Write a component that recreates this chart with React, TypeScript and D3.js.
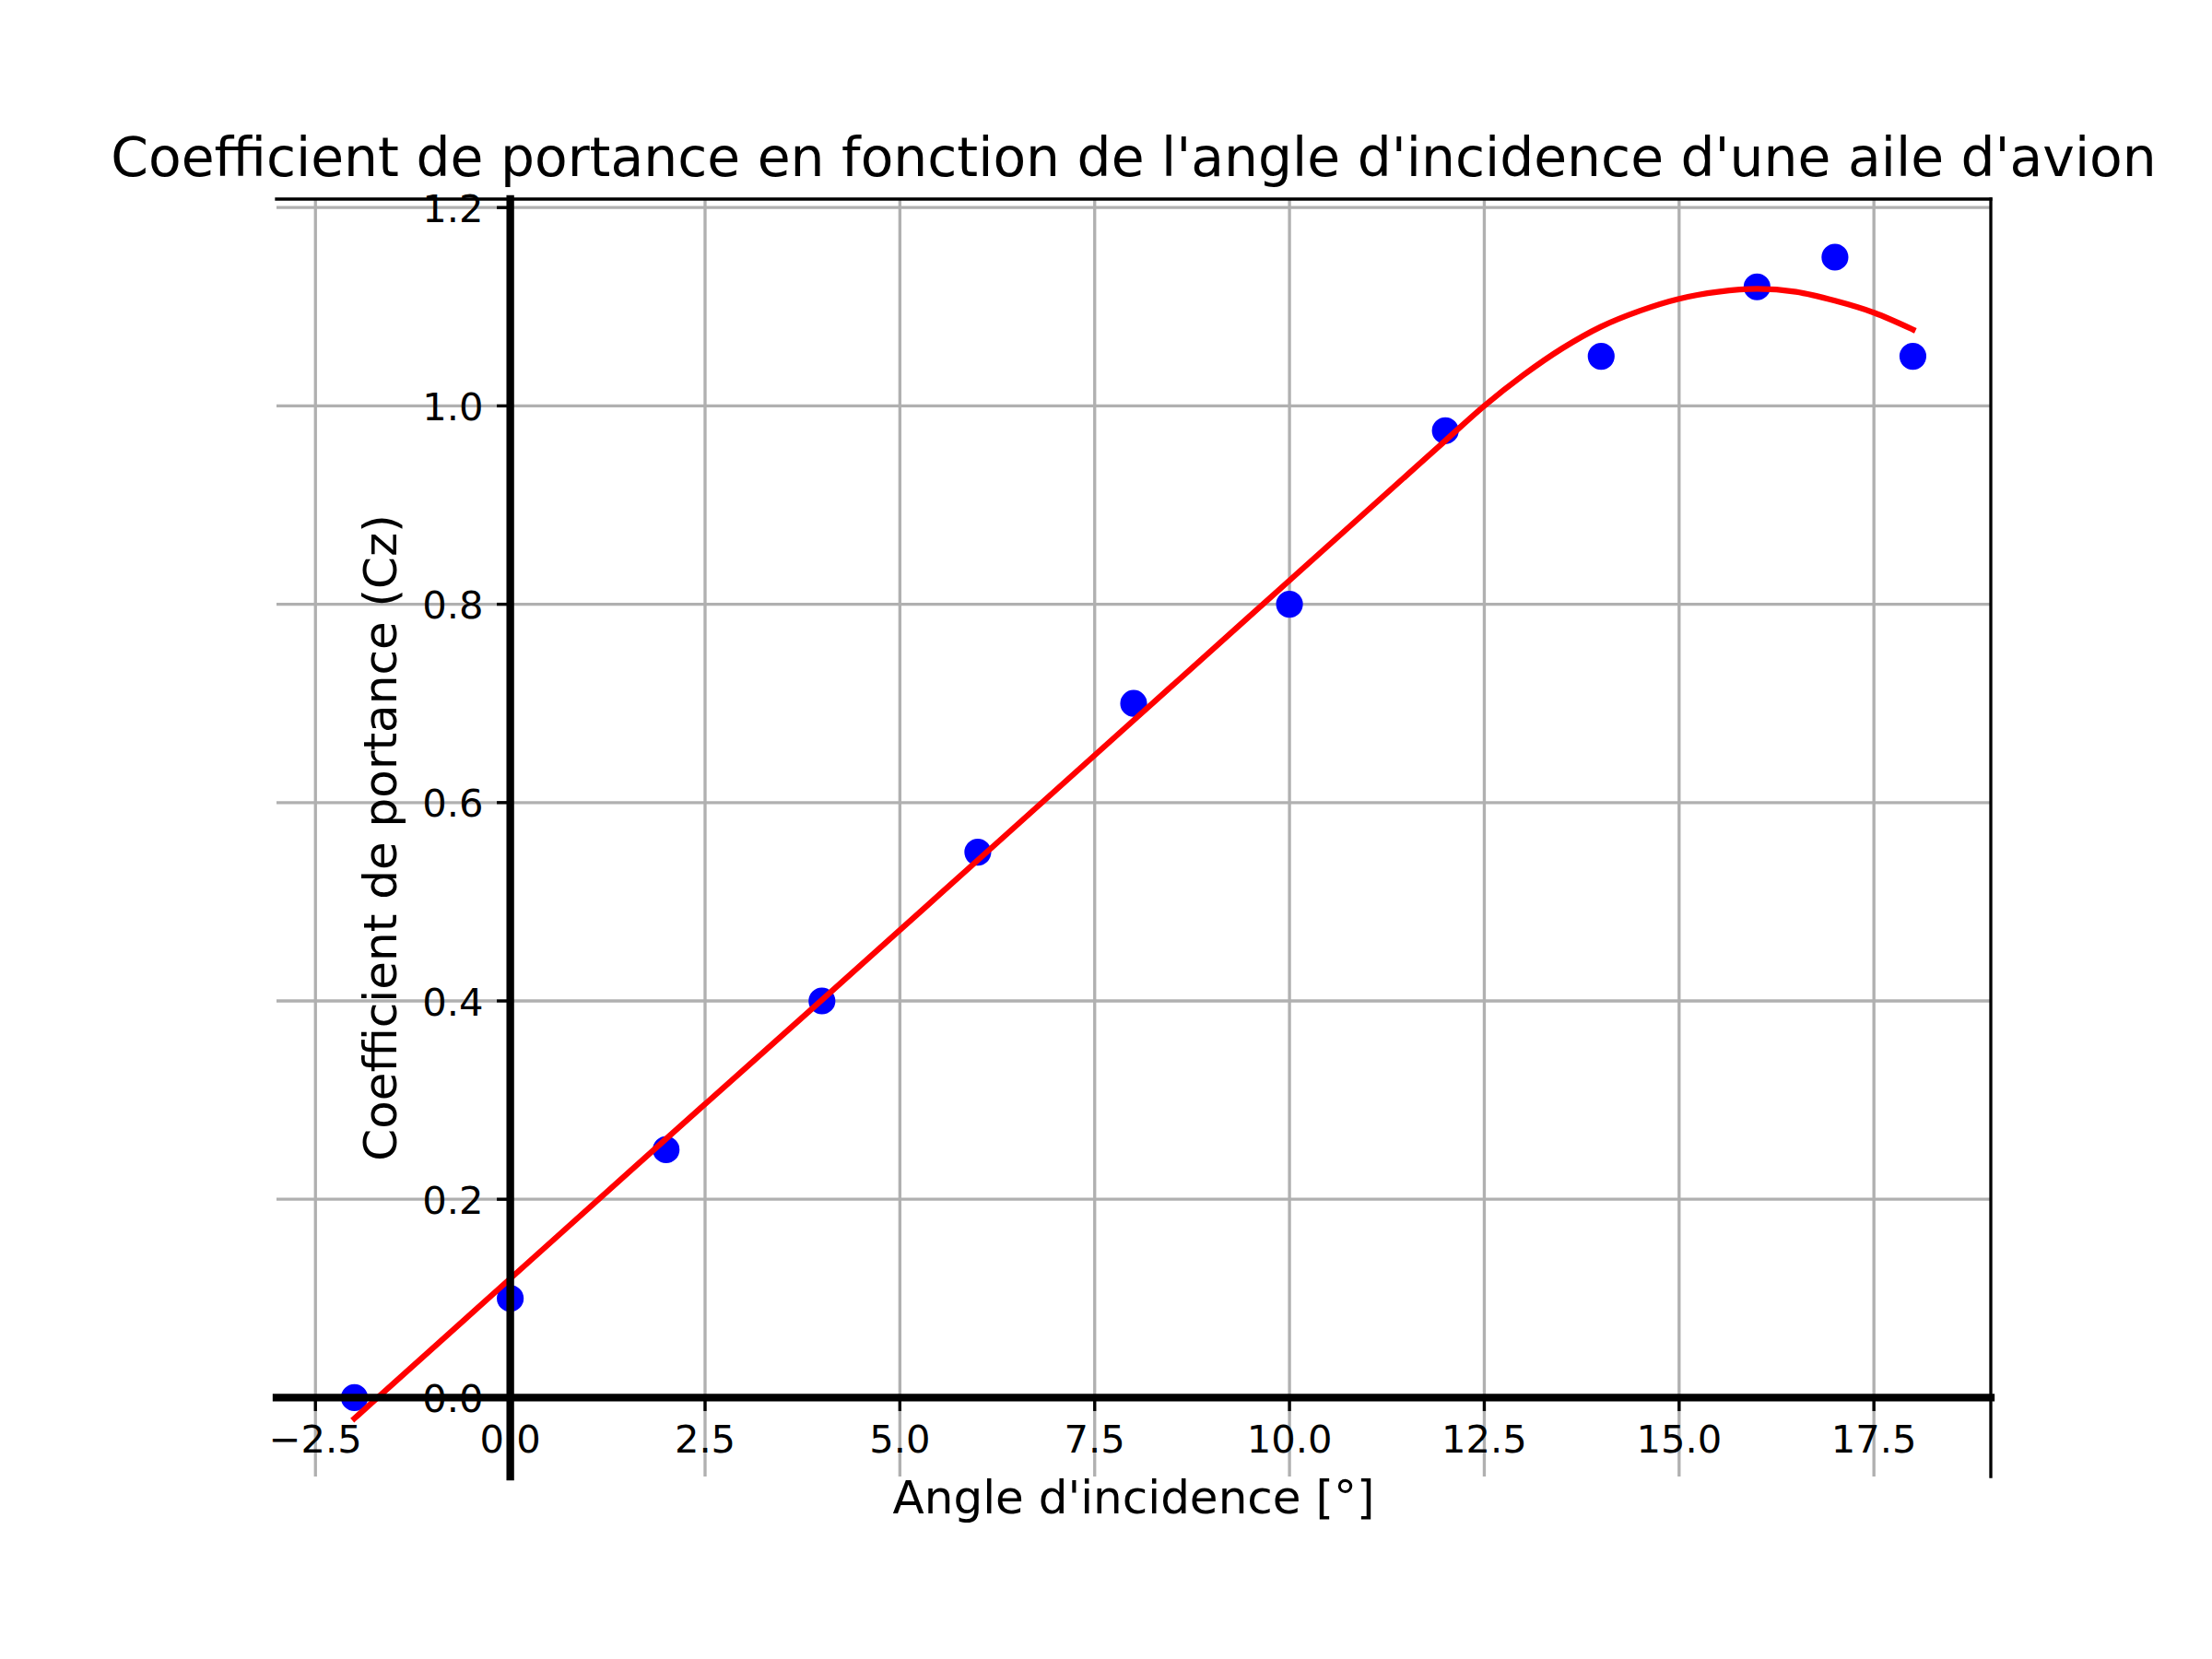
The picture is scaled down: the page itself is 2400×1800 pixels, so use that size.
import * as d3 from "d3";

// measured points (angle in degrees, lift coefficient)
const angles = [-2, 0, 2, 4, 6, 8, 10, 12, 14, 16, 17, 18];
const cz = [0, 0.1, 0.25, 0.4, 0.55, 0.7, 0.8, 0.975, 1.05, 1.12, 1.15, 1.05];

// red fitted curve
const fitAngles = [-2, 0, 2, 4, 6, 8, 10, 12, 12.5, 13, 13.5, 14, 14.5, 15, 15.5, 16, 16.5, 17, 17.5, 18];
const fitCz = [-0.021, 0.12, 0.261, 0.401, 0.542, 0.683, 0.824, 0.965, 1.0, 1.031, 1.058, 1.08, 1.096, 1.108, 1.115, 1.118, 1.115, 1.106, 1.094, 1.077];

const xTicks = [-2.5, 0, 2.5, 5, 7.5, 10, 12.5, 15, 17.5];
const yTicks = [0, 0.2, 0.4, 0.6, 0.8, 1.0, 1.2];

const TITLE = "Coefficient de portance en fonction de l'angle d'incidence d'une aile d'avion";
const X_LABEL = "Angle d'incidence [°]";
const Y_LABEL = "Coefficient de portance (Cz)";

const W = 2400;
const H = 1800;
const LEFT = 300;
const RIGHT = 2160;
const TOP = 216;
const BOTTOM = 1602;

const FONT = "DejaVu Sans";
const TICK_LEN = 14.58;
const THIN = 3.33;
const THICK = 8.33;

// matplotlib-like 5% margins
const padded = (vals: number[]) => {
  const [lo, hi] = d3.extent(vals) as [number, number];
  const m = (hi - lo) * 0.05;
  return [lo - m, hi + m];
};

export default function App() {
  const xScale = d3
    .scaleLinear()
    .domain(padded([...angles, ...fitAngles]))
    .range([LEFT, RIGHT]);
  const yScale = d3
    .scaleLinear()
    .domain(padded([...cz, ...fitCz]))
    .range([BOTTOM, TOP]);

  const fmt = d3.format(".1f");
  const x0 = xScale(0);
  const y0 = yScale(0);

  const fitLine = d3
    .line<number>()
    .x((d, i) => xScale(fitAngles[i]))
    .y((d) => yScale(d))
    .curve(d3.curveMonotoneX);

  return (
    <svg
      width={W}
      height={H}
      style={{ position: "absolute", left: 0, top: 0, background: "#fff" }}
    >
      <defs>
        <clipPath id="plotArea">
          <rect x={LEFT} y={TOP} width={RIGHT - LEFT} height={BOTTOM - TOP} />
        </clipPath>
      </defs>

      {/* grid */}
      <g stroke="#b0b0b0" strokeWidth={THIN}>
        {xTicks.map((t) => (
          <line key={"gx" + t} x1={xScale(t)} x2={xScale(t)} y1={TOP} y2={BOTTOM} />
        ))}
        {yTicks.map((t) => (
          <line key={"gy" + t} x1={LEFT} x2={RIGHT} y1={yScale(t)} y2={yScale(t)} />
        ))}
      </g>

      <g clipPath="url(#plotArea)">
        {angles.map((a, i) => (
          <circle
            key={i}
            cx={xScale(a)}
            cy={yScale(cz[i])}
            r={12.5}
            fill="#0000ff"
            stroke="#0000ff"
            strokeWidth={4.17}
          />
        ))}
        <path
          d={fitLine(fitCz) || ""}
          fill="none"
          stroke="#ff0000"
          strokeWidth={6.25}
          strokeLinecap="square"
        />
      </g>

      {/* spines: left and bottom moved to zero */}
      <g stroke="#000" strokeLinecap="square">
        <line x1={LEFT} x2={RIGHT} y1={TOP} y2={TOP} strokeWidth={THIN} />
        <line x1={RIGHT} x2={RIGHT} y1={TOP} y2={BOTTOM} strokeWidth={THIN} />
        <line x1={x0} x2={x0} y1={TOP} y2={BOTTOM} strokeWidth={THICK} />
        <line x1={LEFT} x2={RIGHT} y1={y0} y2={y0} strokeWidth={THICK} />
      </g>

      {/* ticks */}
      <g stroke="#000" strokeWidth={THIN}>
        {xTicks.map((t) => (
          <line key={"tx" + t} x1={xScale(t)} x2={xScale(t)} y1={y0} y2={y0 + TICK_LEN} />
        ))}
        {yTicks.map((t) => (
          <line key={"ty" + t} x1={x0 - TICK_LEN} x2={x0} y1={yScale(t)} y2={yScale(t)} />
        ))}
      </g>

      <g fontFamily={FONT} fontSize={41.67} fill="#000">
        {xTicks.map((t) => (
          <text key={"lx" + t} x={xScale(t)} y={y0 + 59.5} textAnchor="middle">
            {fmt(t)}
          </text>
        ))}
        {yTicks.map((t) => (
          <text key={"ly" + t} x={x0 - 2 * TICK_LEN} y={yScale(t) + 15.5} textAnchor="end">
            {fmt(t)}
          </text>
        ))}
      </g>

      <text
        x={(LEFT + RIGHT) / 2}
        y={191}
        textAnchor="middle"
        fontFamily={FONT}
        fontSize={58.33}
      >
        {TITLE}
      </text>
      <text
        x={(LEFT + RIGHT) / 2}
        y={1642}
        textAnchor="middle"
        fontFamily={FONT}
        fontSize={50}
      >
        {X_LABEL}
      </text>
      <text
        transform={`translate(${x0 - 123.6},${(TOP + BOTTOM) / 2}) rotate(-90)`}
        textAnchor="middle"
        fontFamily={FONT}
        fontSize={50}
      >
        {Y_LABEL}
      </text>
    </svg>
  );
}
